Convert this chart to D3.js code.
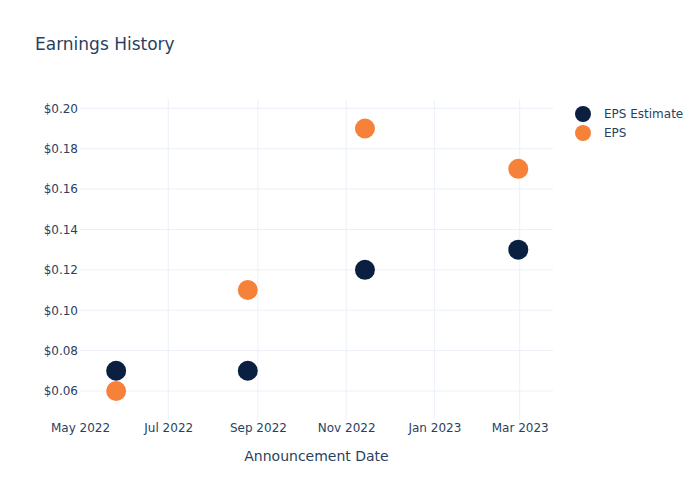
<!DOCTYPE html>
<html><head><meta charset="utf-8">
<script src="https://cdn.jsdelivr.net/npm/d3@7"></script>
<style>body{margin:0;background:#fff;} text{font-family:"DejaVu Sans",Verdana,sans-serif;}</style>
</head><body><svg id="c" width="700" height="500"></svg>
<script>
const dates = ["2022-05-26","2022-08-25","2022-11-14","2023-02-28"];
const epsEstimate = [0.07, 0.07, 0.12, 0.13];
const eps = [0.06, 0.11, 0.19, 0.17];
const seriesNames = ["EPS Estimate", "EPS"];
const yTicks = [0.06, 0.08, 0.10, 0.12, 0.14, 0.16, 0.18, 0.20];
const xTickLabels = ["May 2022","Jul 2022","Sep 2022","Nov 2022","Jan 2023","Mar 2023"];

const colors = ["#0b1f40", "#f6823a"];
const textColor = "#2a3f5f";
const gridColor = "#ebf0f8";
const parse = d3.timeParse("%Y-%m-%d");
const svg = d3.select("#c");
const L = 80, R = 553, T = 100, B = 420;

const x = d3.scaleTime().domain([new Date(2022,4,1), new Date(2023,2,24)]).range([L, R]);
const y = d3.scaleLinear().domain([0.04563, 0.20411]).range([B, T]);

const xTickDates = [new Date(2022,4,1),new Date(2022,6,1),new Date(2022,8,1),new Date(2022,10,1),new Date(2023,0,1),new Date(2023,2,1)];

// grid
const g = svg.append("g");
g.selectAll(".vg").data(xTickDates.slice(1)).enter().append("line")
  .attr("x1", d=>x(d)).attr("x2", d=>x(d)).attr("y1", T).attr("y2", B)
  .attr("stroke", gridColor).attr("stroke-width", 1);
g.selectAll(".hg").data(yTicks).enter().append("line")
  .attr("x1", L).attr("x2", R).attr("y1", d=>y(d)).attr("y2", d=>y(d))
  .attr("stroke", gridColor).attr("stroke-width", 1);

// axes
const xAxis = d3.axisBottom(x).tickValues(xTickDates).tickFormat((d,i)=>xTickLabels[i]).tickSize(0).tickPadding(0);
const xa = svg.append("g").attr("transform", `translate(0,${B})`).call(xAxis);
xa.select(".domain").remove();
xa.selectAll("text").attr("fill", textColor).attr("font-size", 12).attr("dy", "0.71em").attr("y", 3);

const yAxis = d3.axisLeft(y).tickValues(yTicks).tickFormat(d=>"$" + d.toFixed(2)).tickSize(0).tickPadding(2);
const ya = svg.append("g").attr("transform", `translate(${L},0)`).call(yAxis);
ya.select(".domain").remove();
ya.selectAll("text").attr("fill", textColor).attr("font-size", 12);

// points
const series = [epsEstimate, eps];
series.forEach((vals, si) => {
  svg.append("g").selectAll("circle").data(vals).enter().append("circle")
    .attr("cx", (d,i)=>x(parse(dates[i]))).attr("cy", d=>y(d)).attr("r", 10)
    .attr("fill", colors[si]);
});

// title
svg.append("text").attr("x", 35).attr("y", 50).attr("font-size", 17).attr("fill", textColor).text("Earnings History");
svg.append("text").attr("x", (L+R)/2).attr("y", 461).attr("text-anchor", "middle").attr("font-size", 14).attr("fill", textColor).text("Announcement Date");

// legend
seriesNames.forEach((n, i) => {
  const ly = 114 + i*19;
  svg.append("circle").attr("cx", 583).attr("cy", ly).attr("r", 8).attr("fill", colors[i]);
  svg.append("text").attr("x", 604).attr("y", ly + 4).attr("font-size", 12).attr("fill", textColor).text(n);
});
</script></body></html>
